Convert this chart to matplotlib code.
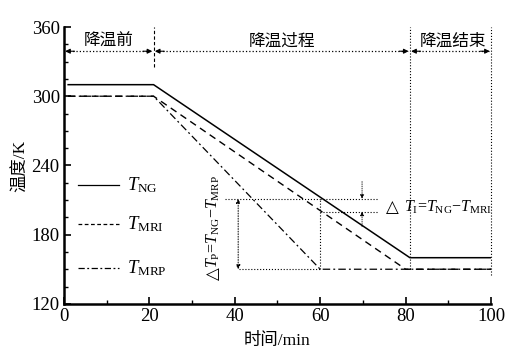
import matplotlib
matplotlib.use("Agg")
import matplotlib.pyplot as plt
from matplotlib.ticker import MultipleLocator

plt.rcParams['font.family'] = ['Liberation Serif', 'Noto Sans CJK SC', 'DejaVu Sans']
plt.rcParams['mathtext.fontset'] = 'custom'
plt.rcParams['mathtext.it'] = 'Liberation Serif:italic'
plt.rcParams['mathtext.rm'] = 'Liberation Serif'

# data
time_ng = [1, 21, 81, 100]
temp_ng = [310, 310, 160, 160]
time_mri = [1, 21, 80, 100]
temp_mri = [300, 300, 150, 150]
time_mrp = [1, 21, 60, 100]
temp_mrp = [300, 300, 150, 150]
phase_bounds = [0, 21, 81, 100]
phase_labels = ['降温前', '降温过程', '降温结束']
x_ticks = [0, 20, 40, 60, 80, 100]
y_ticks = [120, 180, 240, 300, 360]

fig = plt.figure(figsize=(5.11, 3.60), dpi=100)
ax = fig.add_axes([0.125, 0.156, 0.836, 0.769])

ax.plot(time_ng, temp_ng, color='black', lw=1.1, ls='-')
ax.plot(time_mri, temp_mri, color='black', lw=1.0, ls=(0, (5, 3.5)))
ax.plot(time_mrp, temp_mrp, color='black', lw=0.9, ls=(0, (6, 2.5, 1.5, 2.5)))

ax.set_xlim(0, 100)
ax.set_ylim(120, 360)
ax.set_xticks(x_ticks)
ax.set_yticks(y_ticks)
ax.xaxis.set_minor_locator(MultipleLocator(10))
ax.yaxis.set_minor_locator(MultipleLocator(15))
ax.tick_params(which='both', direction='in', labelsize=13.5)
ax.tick_params(which='major', length=5, width=1.2, pad=3)
ax.tick_params(which='minor', length=3, width=1.0)
for s in ['top', 'right']:
    ax.spines[s].set_visible(False)
for s in ['left', 'bottom']:
    ax.spines[s].set_linewidth(1.8)

cjk = ['Noto Sans CJK SC', 'DejaVu Sans']
mixed = ['Liberation Serif', 'Noto Sans CJK SC']
ax.set_xlabel('时间/min', family=mixed, fontsize=12.5, labelpad=6)
ax.set_ylabel('温度/K', family=mixed, fontsize=12.5, labelpad=2)

# phase markers
ax.plot([21, 21], [325, 360], color='black', lw=0.8, ls=(0, (3, 2)), clip_on=False)
ax.plot([81, 81], [150, 360], color='black', lw=0.8, ls=':', clip_on=False)
ax.plot([100, 100], [145, 360], color='black', lw=0.8, ls=':', clip_on=False)
ya = 339
for a, b in zip(phase_bounds[:-1], phase_bounds[1:]):
    ax.plot([a + 0.5, b - 0.5], [ya, ya], color='black', lw=0.9, ls=':')
    ax.annotate('', xy=(b - 0.3, ya), xytext=(b - 2.5, ya),
                arrowprops=dict(arrowstyle='-|>', color='black', lw=0.8,
                                mutation_scale=7, shrinkA=0, shrinkB=0))
    ax.annotate('', xy=(a + 0.3, ya), xytext=(a + 2.5, ya),
                arrowprops=dict(arrowstyle='-|>', color='black', lw=0.8,
                                mutation_scale=7, shrinkA=0, shrinkB=0))
label_x = [10.5, 51, 91]
for lx, lab in zip(label_x, phase_labels):
    ax.text(lx, 347.5, lab, family=cjk, fontsize=12, ha='center', va='center')

# legend drawn inside
leg_y = [223, 189, 151]
leg_styles = ['-', (0, (3, 2)), (0, (5, 2, 1.5, 2))]
leg_labels = [r'$T_{\mathrm{NG}}$', r'$T_{\mathrm{MRI}}$', r'$T_{\mathrm{MRP}}$']
for ly, st, lab in zip(leg_y, leg_styles, leg_labels):
    ax.plot([3.3, 12.9], [ly, ly], color='black', lw=0.9, ls=st)
    ax.text(14.8, ly, lab, fontsize=13.5, va='center', ha='left')

# delta T_P annotation
ax.plot([37.7, 60], [211, 211], color='black', lw=0.8, ls=':')
ax.plot([41, 60], [150, 150], color='black', lw=0.8, ls=':')
ax.annotate('', xy=(40.8, 211), xytext=(40.8, 150),
            arrowprops=dict(arrowstyle='<|-|>', color='black', lw=0.7, ls=':',
                            mutation_scale=6, shrinkA=0, shrinkB=0))
ax.text(35.0, 146.0, '△', rotation=90, fontsize=12, ha='center', va='center',
        family='DejaVu Sans')
ax.text(35.0, 151.5, r'$T_{\mathrm{P}}$=$T_{\mathrm{NG}}$−$T_{\mathrm{MRP}}$',
        rotation=90, fontsize=11.5, ha='center', va='bottom')

# delta T_I annotation
ax.plot([60, 60], [150, 211], color='black', lw=0.8, ls=':')
ax.plot([60, 73.5], [211, 211], color='black', lw=0.8, ls=':')
ax.plot([60, 73.5], [200, 200], color='black', lw=0.8, ls=':')
ax.annotate('', xy=(69.8, 211), xytext=(69.8, 226),
            arrowprops=dict(arrowstyle='-|>', color='black', lw=0.6, ls=':',
                            mutation_scale=6, shrinkA=0, shrinkB=0))
ax.annotate('', xy=(69.8, 200), xytext=(69.8, 187),
            arrowprops=dict(arrowstyle='-|>', color='black', lw=0.6, ls=':',
                            mutation_scale=6, shrinkA=0, shrinkB=0))
ax.text(77.0, 204, '△', fontsize=12, ha='center', va='center', family='DejaVu Sans')
ax.text(79.6, 204, r'$T_{\mathrm{I}}$=$T_{\mathrm{NG}}$−$T_{\mathrm{MRI}}$',
        fontsize=11.5, ha='left', va='center')

fig.savefig('out.png', dpi=100)
